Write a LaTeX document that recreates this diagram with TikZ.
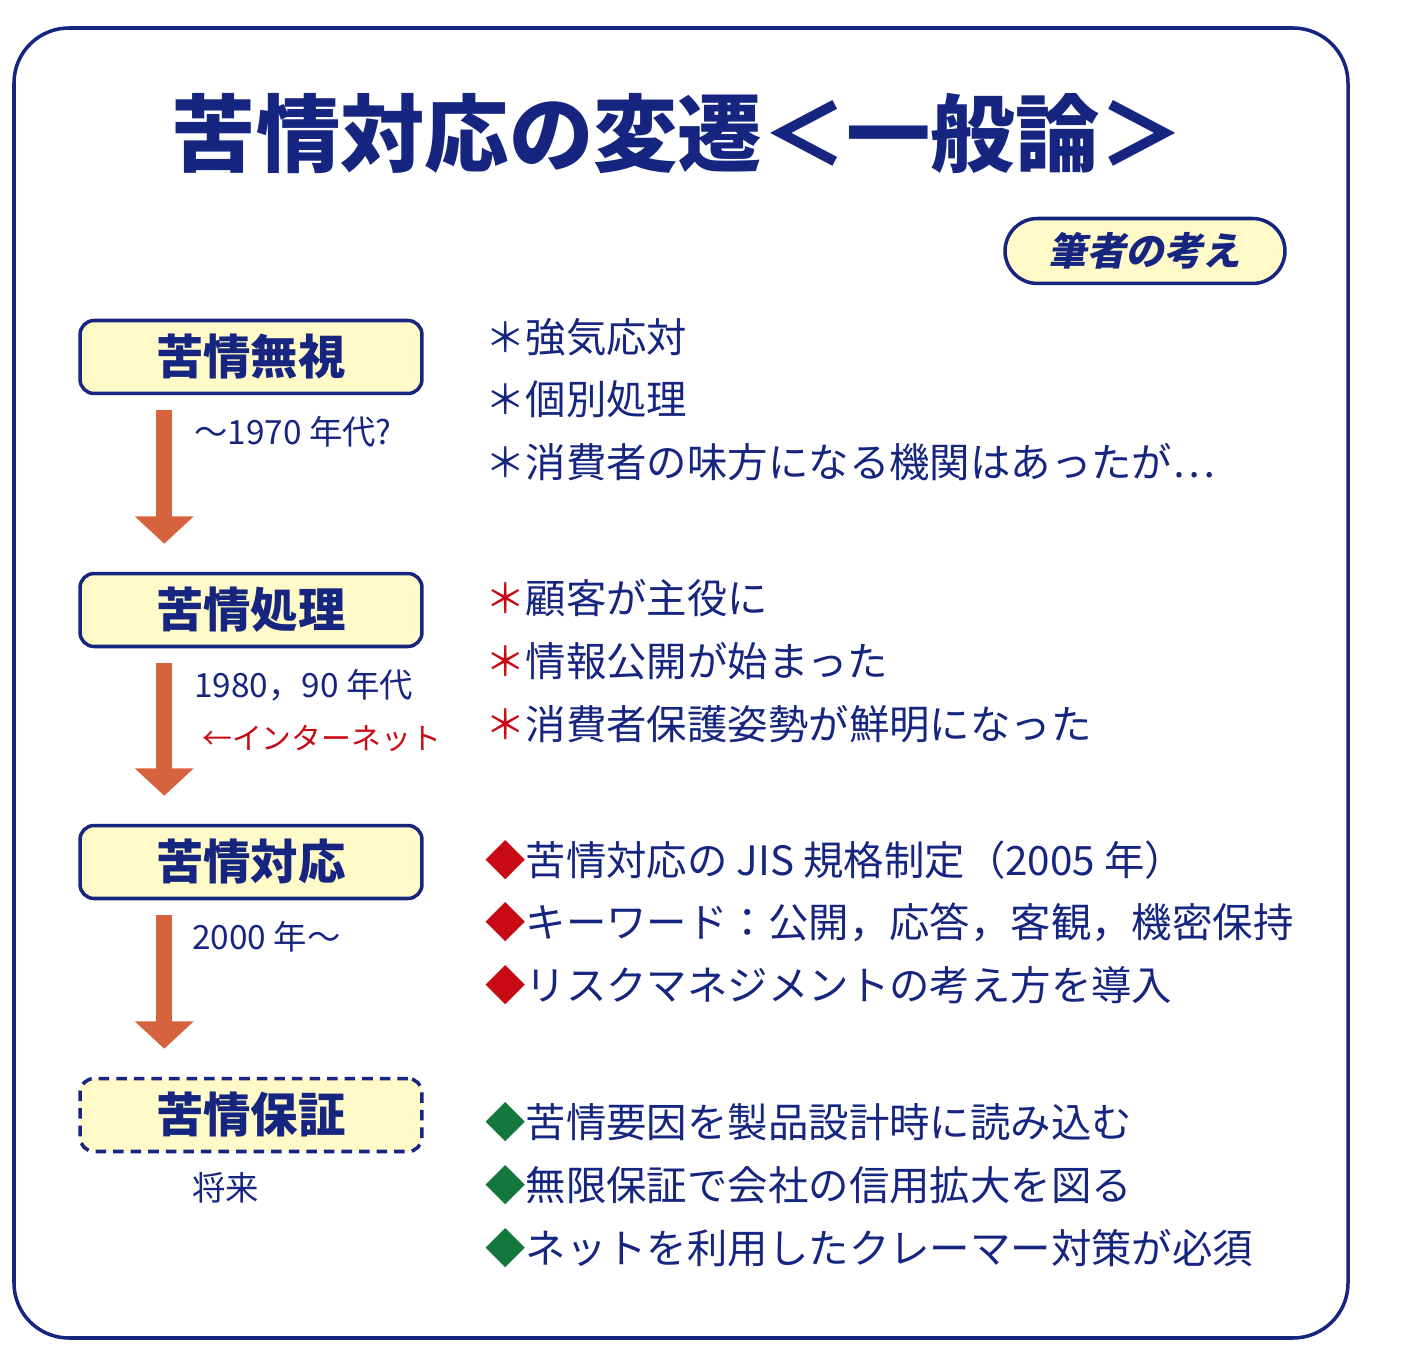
\documentclass[tikz,border=0pt]{standalone}
\usepackage{fontspec}
\setmainfont{Noto Sans CJK JP}
\newfontfamily\slantfont[FakeSlant=0.2]{Noto Sans CJK JP}
\usetikzlibrary{arrows.meta,positioning}
\definecolor{navy}{RGB}{22,38,128}
\definecolor{cream}{RGB}{255,250,200}
\definecolor{rust}{RGB}{214,98,62}
\definecolor{redmark}{RGB}{200,10,20}
\definecolor{greenmark}{RGB}{20,120,60}
\tikzstyle{stage} = [draw=navy, line width=2pt, fill=cream, rounded corners=8pt, minimum width=6.84cm, minimum height=1.46cm, text=navy, font=\fontsize{27}{30}\selectfont\bfseries]
\tikzstyle{period} = [anchor=west, text=navy, font=\fontsize{19}{22}\selectfont]
\tikzstyle{item} = [anchor=west, text=navy, font=\fontsize{23}{26}\selectfont, inner sep=0pt]
\tikzstyle{flow} = [draw=rust, line width=9pt, -{Triangle[width=1.15cm,length=0.55cm]}]
\begin{document}
\begin{tikzpicture}[x=0.02cm, y=-0.02cm]
\useasboundingbox (0,0) rectangle (1401,1365);
\draw[navy, line width=2pt, rounded corners=1.1cm] (14,28) rectangle (1348,1338);
\node (title) at (678,133) {\fontsize{48}{54}\selectfont\bfseries\color{navy}苦情対応の変遷＜一般論＞};
\node[draw=navy, line width=2pt, fill=cream, rounded corners=0.65cm, minimum width=5.6cm, minimum height=1.3cm, text=navy] (opinion) at (1145,251) {\slantfont\fontsize{22}{24}\selectfont\bfseries 筆者の考え};
% stages
\node[stage] (ignore) at (251,357) {苦情無視};
\node[stage] (handle) at (251,610) {苦情処理};
\node[stage] (respond) at (251,862) {苦情対応};
\node[stage, dash pattern=on 6pt off 4pt] (warrant) at (251,1115) {苦情保証};
\draw[flow] ([xshift=1.72cm,yshift=-0.3cm]ignore.south west) -- ([xshift=1.72cm,yshift=0.56cm]handle.north west);
\draw[flow] ([xshift=1.72cm,yshift=-0.3cm]handle.south west) -- ([xshift=1.72cm,yshift=0.56cm]respond.north west);
\draw[flow] ([xshift=1.72cm,yshift=-0.3cm]respond.south west) -- ([xshift=1.72cm,yshift=0.56cm]warrant.north west);
% periods
\node[period] (p1) at (188,432) {～1970 年代?};
\node[period] (p2) at (188,685) {1980，90 年代};
\node[period, text=redmark, font=\fontsize{17}{20}\selectfont] (net) at (196,738) {←インターネット};
\node[period] (p3) at (186,937) {2000 年～};
\node[period] (p4) at (186,1188) {将来};
% items
\node[item] (a1) at (485,337) {＊強気応対};
\node[item] (a2) at (485,399) {＊個別処理};
\node[item] (a3) at (485,462) {＊消費者の味方になる機関はあったが…};
\node[item] (b1) at (485,598) {\textcolor{redmark}{＊}顧客が主役に};
\node[item] (b2) at (485,661) {\textcolor{redmark}{＊}情報公開が始まった};
\node[item] (b3) at (485,724) {\textcolor{redmark}{＊}消費者保護姿勢が鮮明になった};
\node[item] (c1) at (485,860) {\textcolor{redmark}{◆}苦情対応の JIS 規格制定（2005 年）};
\node[item] (c2) at (485,922) {\textcolor{redmark}{◆}キーワード：公開，応答，客観，機密保持};
\node[item] (c3) at (485,985) {\textcolor{redmark}{◆}リスクマネジメントの考え方を導入};
\node[item] (d1) at (485,1122) {\textcolor{greenmark}{◆}苦情要因を製品設計時に読み込む};
\node[item] (d2) at (485,1185) {\textcolor{greenmark}{◆}無限保証で会社の信用拡大を図る};
\node[item] (d3) at (485,1248) {\textcolor{greenmark}{◆}ネットを利用したクレーマー対策が必須};
\end{tikzpicture}
\end{document}
